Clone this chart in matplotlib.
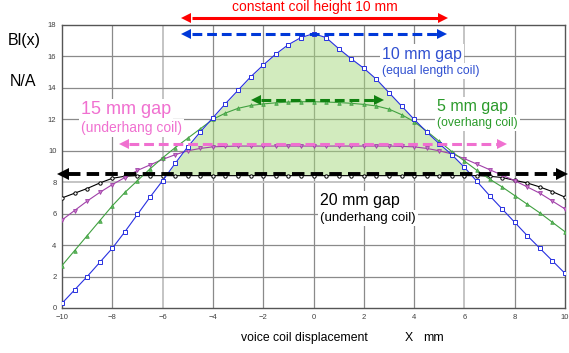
import numpy as np
import matplotlib
matplotlib.use('Agg')
import matplotlib.pyplot as plt

plt.rcParams['font.family'] = ['Liberation Sans', 'DejaVu Sans']

# displacement X (mm)
x = np.arange(-10, 10.01, 0.5)

# Bl(x) N/A for each gap
bl_10mm = [0.3, 1.15, 2.0, 2.9, 3.8, 4.85, 5.95, 7.05, 8.1, 9.2, 10.25, 11.2, 12.1, 13.0, 13.85,
           14.7, 15.45, 16.15, 16.75, 17.2, 17.45, 17.2, 16.5, 15.85, 15.25, 14.55, 13.7, 12.85,
           12.0, 11.2, 10.45, 9.75, 8.95, 8.05, 7.15, 6.3, 5.45, 4.6, 3.8, 3.0, 2.2]
bl_5mm = [2.7, 3.65, 4.6, 5.55, 6.5, 7.35, 8.1, 8.85, 9.55, 10.2, 10.8, 11.4, 12.0, 12.4, 12.7,
          12.88, 12.98, 13.05, 13.1, 13.12, 13.12, 13.1, 13.07, 13.02, 12.95, 12.85, 12.65, 12.3,
          11.85, 11.25, 10.6, 9.95, 9.35, 8.75, 8.2, 7.7, 7.15, 6.6, 6.05, 5.45, 4.85]
bl_15mm = [5.6, 6.2, 6.8, 7.35, 7.85, 8.3, 8.75, 9.1, 9.45, 9.75, 10.0, 10.15, 10.25, 10.28, 10.3,
           10.3, 10.3, 10.3, 10.3, 10.3, 10.3, 10.3, 10.3, 10.3, 10.3, 10.3, 10.3, 10.28,
           10.25, 10.15, 10.0, 9.8, 9.5, 9.15, 8.8, 8.45, 8.1, 7.7, 7.3, 6.8, 6.3]
bl_20mm = [7.0, 7.3, 7.6, 7.95, 8.25, 8.38, 8.42, 8.42, 8.42, 8.42, 8.42, 8.42, 8.42, 8.42, 8.42,
           8.42, 8.42, 8.42, 8.42, 8.42, 8.42, 8.42, 8.42, 8.42, 8.42, 8.42, 8.42, 8.42,
           8.42, 8.42, 8.42, 8.42, 8.42, 8.42, 8.38, 8.3, 8.12, 7.95, 7.7, 7.4, 7.05]

xticks = [-10, -8, -6, -4, -2, 0, 2, 4, 6, 8, 10]
yticks = [0, 2, 4, 6, 8, 10, 12, 14, 16, 18]

W, H = 569, 353
fig = plt.figure(figsize=(W / 100, H / 100), dpi=100)
ax = fig.add_axes([62 / W, 45 / H, 503 / W, 283 / H])
ax.set_xlim(-10, 10)
ax.set_ylim(0, 18)

# grid
for gx in xticks[1:-1]:
    c, lw = ('#c4c4c4', 1.4) if abs(gx) == 6 else ('#8a8a8a', 0.9)
    ax.axvline(gx, color=c, lw=lw, zorder=0)
for gy in yticks[1:-1]:
    c, lw = ('#c4c4c4', 1.4) if gy == 8 else ('#8a8a8a', 0.9)
    ax.axhline(gy, color=c, lw=lw, zorder=0)

b10 = np.array(bl_10mm)
b20 = np.array(bl_20mm)
ax.fill_between(x, b20, b10, where=b10 >= b20, interpolate=True,
                color='#a6d87e', alpha=0.5, lw=0, zorder=1)

ax.plot(x, bl_20mm, '-o', color='black', lw=0.8, ms=2.4, mfc='white', mew=0.7, zorder=3)
ax.plot(x, bl_15mm, '-v', color='#a040a8', lw=0.8, ms=2.8, mfc='#c878c8', mec='#a040a8', mew=0.6, zorder=3)
ax.plot(x, bl_5mm, '-^', color='#40a040', lw=0.8, ms=2.6, mfc='#60b860', mec='#40a040', mew=0.5, zorder=3)
ax.plot(x, bl_10mm, '-s', color='#2830e0', lw=0.8, ms=2.2, mfc='white', mew=0.7, zorder=3)


def dim_arrow(x0, x1, y, color, lw, ms, dashed=True):
    ls = (0, (3.2, 1.6)) if dashed else '-'
    ax.plot([x0 + 0.2, x1 - 0.2], [y, y], color=color, lw=lw, ls=ls, clip_on=False, zorder=4,
            solid_capstyle='butt', dash_capstyle='butt')
    ax.plot([x0], [y], marker='<', color=color, ms=ms, mew=0, clip_on=False, zorder=4)
    ax.plot([x1], [y], marker='>', color=color, ms=ms, mew=0, clip_on=False, zorder=4)


dim_arrow(-5.05, 5.15, 18.45, '#ff0000', 2.2, 7, dashed=False)
dim_arrow(-5.05, 5.1, 17.4, '#0038d8', 2.2, 7)
dim_arrow(-2.3, 2.6, 13.2, '#108010', 2.2, 7)
dim_arrow(-7.55, 7.5, 10.45, '#f070d0', 2.2, 7)
dim_arrow(-9.95, 9.9, 8.55, 'black', 2.8, 8)

for s in ax.spines.values():
    s.set_color('#555555')
    s.set_linewidth(1.0)
ax.set_xticks(xticks)
ax.set_yticks(yticks)
ax.tick_params(length=0, labelsize=5.5, colors='#404040', pad=4)


def ftext(px, py, s, **kw):
    fig.text(px / W, 1 - py / H, s, va='center', **kw)


box = dict(facecolor='white', edgecolor='none', pad=1.5)
ftext(315, 7, 'constant coil height 10 mm', ha='center', fontsize=10, color='#ff0000')
ftext(8, 41, 'Bl(x)', fontsize=11.5, color='black')
ftext(10, 81, 'N/A', fontsize=11.5, color='black')
ftext(81, 110, '15 mm gap', fontsize=13, color='#f070d0', bbox=box, zorder=5)
ftext(81, 128, '(underhang coil)', fontsize=10, color='#f070d0', bbox=box, zorder=5)
ftext(382, 54, '10 mm gap', fontsize=11.5, color='#2f4fd0', bbox=box, zorder=5)
ftext(382, 71, '(equal length coil)', fontsize=8.8, color='#2f4fd0', bbox=box, zorder=5)
ftext(437, 107, '5 mm gap', fontsize=11.5, color='#2a9a2a', bbox=box, zorder=5)
ftext(437, 123, '(overhang coil)', fontsize=8.7, color='#2a9a2a', bbox=box, zorder=5)
ftext(320, 201, '20 mm gap', fontsize=11.5, color='black', bbox=box, zorder=5)
ftext(320, 218, '(underhang coil)', fontsize=9.5, color='black', bbox=box, zorder=5)
ftext(241, 338, 'voice coil displacement', fontsize=8.8, color='black')
ftext(405, 338, 'X', fontsize=8.8, color='black')
ftext(423, 338, 'mm', fontsize=8.8, color='black')

fig.savefig('out.png', dpi=100)
